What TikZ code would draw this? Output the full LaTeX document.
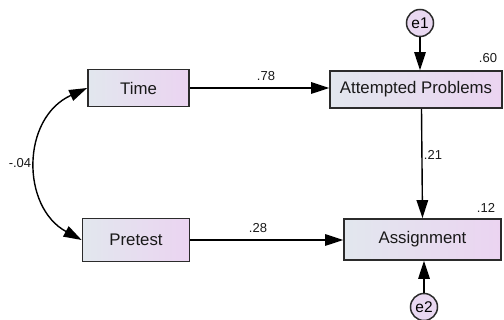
\documentclass[tikz,border=0pt]{standalone}
\usepackage{fontspec}
\setmainfont{Liberation Sans}
\usetikzlibrary{arrows.meta}
\definecolor{boxL}{HTML}{E2E7EE}
\definecolor{boxR}{HTML}{EBD4F1}
\definecolor{circ}{HTML}{E9D8F1}
\definecolor{edge}{HTML}{2B2B2B}
\tikzset{
  var/.style={draw=edge, line width=1.7pt, left color=boxL, right color=boxR,
    inner sep=0pt, font=\fontsize{16.8}{19}\selectfont, text=black!90},
  err/.style={circle, draw=edge, line width=1.5pt, fill=circ, inner sep=0pt,
    minimum size=27pt, font=\fontsize{15.5}{18}\selectfont},
  tip/.tip={Triangle[length=18pt,width=11.5pt]},
  path/.style={line width=1.4pt, -tip},
  coef/.style={font=\fontsize{13}{15}\selectfont, text=black!90, inner sep=0pt}
}
\begin{document}
\begin{tikzpicture}[x=1pt,y=-1pt]
\useasboundingbox (0,0) rectangle (504,320);
\node[var, minimum width=101pt, minimum height=37pt] (Time) at (138.5,88) {Time};
\node[var, minimum width=172pt, minimum height=37pt] (AP) at (416,89.5) {Attempted Problems};
\node[var, minimum width=107pt, minimum height=43pt] (Pre) at (136,240) {Pretest};
\node[var, minimum width=157pt, minimum height=41pt] (Asg) at (422.5,239.5) {Assignment};
\node[err] (e1) at (420,23) {e1};
\node[err] (e2) at (424,307) {e2};
\draw[path] (Time.east) -- (Time.east -| AP.west);
\draw[path] (Pre.east) -- (Pre.east -| Asg.west);
\draw[path] (e1) -- (e1 |- AP.north);
\coordinate (apb) at (AP.south -| Asg.north);
\draw[path] ([xshift=-1pt]apb) -- (Asg.north);
\draw[path] (e2) -- (e2 |- Asg.south);
\draw[line width=1.4pt, tip-tip]
  (Pre.west) .. controls (21,207) and (21,118) .. (Time.west);
\node[coef] (c78) at (266,76) {.78};
\node[coef] (c28) at (258,228) {.28};
\node[coef] (c60) at (488,58) {.60};
\node[coef] (c12) at (486,208) {.12};
\node[coef] (c21) at (433,155) {.21};
\node[coef] (c04) at (20,163) {-.04};
\end{tikzpicture}
\end{document}
